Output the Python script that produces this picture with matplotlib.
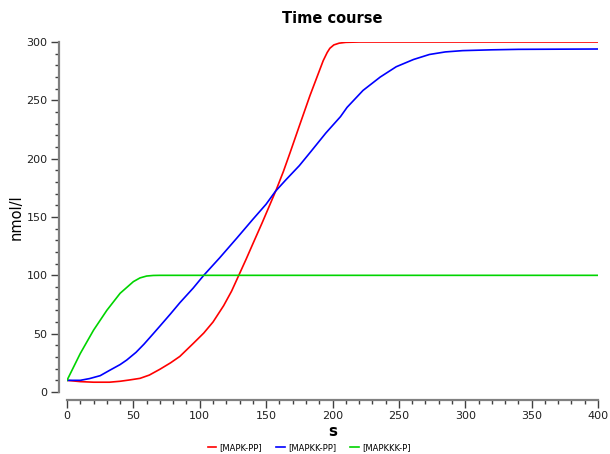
import matplotlib
matplotlib.use("Agg")
import matplotlib.pyplot as plt
from matplotlib.ticker import MultipleLocator

# time course data (t in s, values in nmol/l)
t_mapk = [0, 10, 20, 32, 40, 47, 55, 62, 70, 78, 85, 90, 95, 103, 110, 118, 124, 129, 135, 140, 147,
          153, 157.5, 163, 168, 175, 183, 188, 193, 196, 198, 201, 205, 210, 220, 250, 300, 350, 400]
mapk_pp = [10, 8.9, 8.4, 8.4, 9.2, 10.3, 11.7, 14.5, 19.5, 25, 30.5, 36, 41.5, 50.5, 60, 74, 86.5, 99, 114, 127, 145,
           161, 173, 189, 205, 228, 254, 269, 284, 291, 294.6, 297.5, 299, 299.7, 300, 300, 300, 300, 300]

t_mapkk = [0, 10, 17, 25, 32, 40, 45, 52, 58, 65, 70, 78, 85, 95, 103, 115, 128, 140, 150, 157, 165, 175,
           184, 195, 206, 211, 223, 236, 248, 261, 273, 285, 298, 320, 340, 400]
mapkk_pp = [10, 10, 11.5, 14, 18.5, 23.5, 27.4, 34, 41, 50, 56.5, 67, 76.5, 89, 100, 115, 132, 148, 161, 172, 182, 194,
            206.5, 222, 236, 244, 258.5, 270, 278.8, 285, 289.3, 291.5, 292.6, 293.3, 293.7, 294]

t_mapkkk = [0, 10, 20, 30, 40, 50, 55, 60, 65, 70, 80, 100, 200, 300, 400]
mapkkk_p = [10, 33, 53, 70, 84.6, 94.6, 97.8, 99.4, 99.9, 100, 100, 100, 100, 100, 100]

series = [
    (t_mapk, mapk_pp, "[MAPK-PP]", "#ff0000"),
    (t_mapkk, mapkk_pp, "[MAPKK-PP]", "#0000ff"),
    (t_mapkkk, mapkkk_p, "[MAPKKK-P]", "#00d400"),
]

fig = plt.figure(figsize=(6.1, 4.54), dpi=100)
ax = fig.add_axes([67 / 610, 62 / 454, 531 / 610, 350 / 454])

for t, v, name, col in series:
    ax.plot(t, v, color=col, lw=1.2, label=name)

ax.set_xlim(0, 400)
ax.set_ylim(0, 300)

# detached axes like the original viewer
for side in ["top", "right"]:
    ax.spines[side].set_visible(False)
for side in ["left", "bottom"]:
    ax.spines[side].set_position(("outward", 6))
    ax.spines[side].set_color("#808080")
    ax.spines[side].set_linewidth(1.6)

ax.xaxis.set_major_locator(MultipleLocator(50))
ax.xaxis.set_minor_locator(MultipleLocator(10))
ax.yaxis.set_major_locator(MultipleLocator(50))
ax.yaxis.set_minor_locator(MultipleLocator(10))
ax.tick_params(which="major", length=6, width=1, color="#404040", labelsize=8,
               labelcolor="#202020", pad=2)
ax.tick_params(which="minor", length=3, width=1, color="#404040")

ax.set_title("Time course", fontsize=10.5, fontweight="bold", pad=14)
ax.set_xlabel("s", fontsize=11, fontweight="bold", labelpad=2)
ax.set_ylabel("nmol/l", fontsize=10.5, labelpad=2)

fig.legend(loc="lower center", bbox_to_anchor=(0.507, 0.0), ncol=3, frameon=False,
           fontsize=6, handlelength=1.0, handletextpad=0.4, columnspacing=1.7,
           borderaxespad=0.1, borderpad=0.1)

fig.savefig("out.png", dpi=100)
